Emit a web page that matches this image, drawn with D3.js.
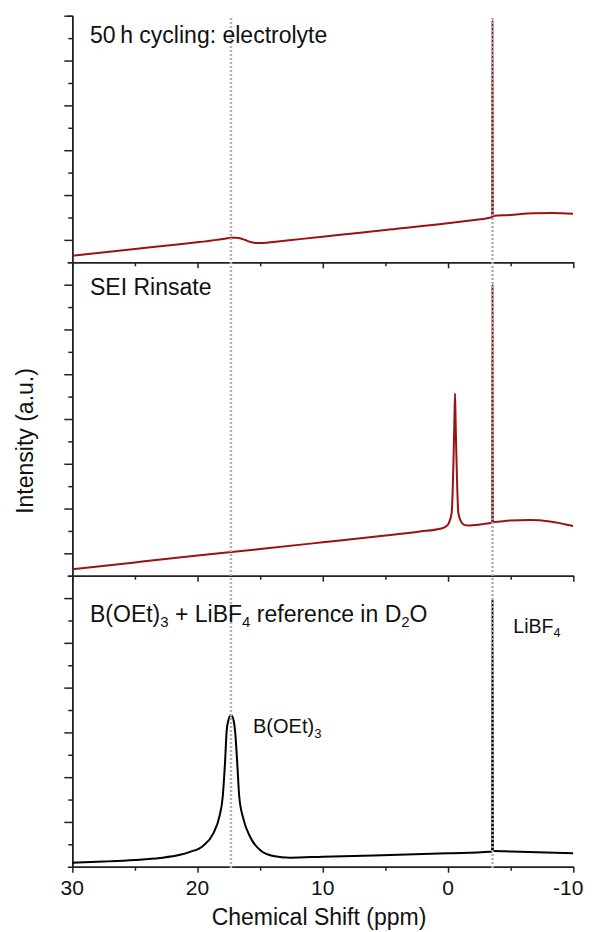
<!DOCTYPE html>
<html>
<head>
<meta charset="utf-8">
<title>11B NMR spectra</title>
<style type="text/css">
  body { margin: 0; background: #fff; }
  svg text { font-family: "Liberation Sans", Arial, Helvetica, sans-serif; fill: #111; }
</style>
</head>
<body>
<script src="https://d3js.org/d3.v7.min.js"></script>
<script type="text/javascript">
// chart values
const ppmTicks = [30, 20, 10, 0, -10];
const ppmTickLabels = ["30", "20", "10", "0", "-10"];
const ppmMinorTicks = [25, 15, 5, -5];
const guidePpm = [17.33, -3.55];

// top: 50 h cycling electrolyte
const electrolytePpm = [30, 25, 22.2, 20.04, 19.54, 18.5, 17.8, 17.33, 16.9, 16.61, 16.21, 15.68, 15.23, 14.48, 13.42, 11.82, 8.6, 5.0, 0.03, -1.75, -3.43, -3.52, -3.55, -3.58, -3.6, -4.95, -6.78, -8.4, -9.98];
const electrolyteInt = [0.147, 0.297, 0.381, 0.446, 0.461, 0.50, 0.526, 0.548, 0.545, 0.535, 0.498, 0.446, 0.430, 0.437, 0.468, 0.517, 0.613, 0.720, 0.870, 0.932, 0.999, 1.005, 5.40, 1.02, 1.033, 1.055, 1.093, 1.10, 1.084];

// middle: SEI rinsate
const rinsatePpm = [30, 25, 20, 15, 10, 5, 2.24, 0.643, 0.244, -0.035, -0.29, -0.37, -0.435, -0.50, -0.555, -0.61, -0.675, -0.74, -0.82, -1.075, -1.355, -1.6, -2.58, -3.43, -3.52, -3.55, -3.58, -3.67, -4.95, -6.55, -8.14, -9.98];
const rinsateInt = [0.143, 0.297, 0.449, 0.596, 0.746, 0.897, 0.987, 1.047, 1.085, 1.16, 1.40, 1.91, 2.58, 3.36, 4.07, 3.36, 2.58, 1.91, 1.40, 1.19, 1.13, 1.12, 1.143, 1.176, 1.18, 6.49, 1.20, 1.199, 1.232, 1.243, 1.21, 1.109];

// bottom: B(OEt)3 + LiBF4 reference in D2O
const referencePpm = [30, 27.5, 25, 23.0, 21.4, 20.6, 19.54, 18.74, 18.26, 17.99, 17.81, 17.67, 17.53, 17.33, 17.13, 17.01, 16.83, 16.67, 16.35, 15.81, 15.01, 13.95, 12.62, 10.0, 0.03, -3.35, -3.52, -3.55, -3.58, -3.7, -5.0, -9.98];
const referenceInt = [0.089, 0.115, 0.150, 0.195, 0.265, 0.33, 0.47, 0.746, 1.116, 1.5625, 2.308, 3.051, 3.275, 3.386, 3.275, 3.051, 2.308, 1.5625, 1.080, 0.670, 0.373, 0.239, 0.201, 0.223, 0.299, 0.335, 0.34, 5.97, 0.35, 0.35, 0.34, 0.299];

// y tick values per panel (no labels)
const electrolyteMajor = [0.5, 1.5, 2.5, 3.5, 4.5, 5.5];
const electrolyteMinor = [1, 2, 3, 4, 5];
const rinsateMajor = [0.5, 1.5, 2.5, 3.5, 4.5, 5.5, 6.5];
const rinsateMinor = [1, 2, 3, 4, 5, 6];
const referenceMajor = [1, 2, 3, 4, 5, 6];
const referenceMinor = [0.5, 1.5, 2.5, 3.5, 4.5, 5.5];

const w = 592;
const h = 932;
const left = 72.3, right = 573.3;
const red = '#9a1212';

const panels = [
  {top: 15.7, bottom: 262.3, domain: [0, 5.5], ppm: electrolytePpm, val: electrolyteInt, color: red, major: electrolyteMajor, minor: electrolyteMinor},
  {top: 262.3, bottom: 575.7, domain: [0, 7], ppm: rinsatePpm, val: rinsateInt, color: red, major: rinsateMajor, minor: rinsateMinor},
  {top: 575.7, bottom: 866.7, domain: [0, 6.5], ppm: referencePpm, val: referenceInt, color: '#000', major: referenceMajor, minor: referenceMinor}
];

const svg = d3.select('body').append('svg')
  .attr('width', w)
  .attr('height', h);

const x = d3.scaleLinear().domain([30, -10]).range([left, right]);

const axisG = svg.append('g');
const lineG = svg.append('g');
const guideG = svg.append('g');
const textG = svg.append('g');

panels.forEach(p => {
  const y = d3.scaleLinear().domain(p.domain).range([p.bottom, p.top]);

  // left axis, major + minor ticks
  axisG.append('g')
    .attr('transform', `translate(${left},0)`)
    .call(d3.axisLeft(y).tickValues(p.major).tickSize(8).tickSizeOuter(4.5).tickFormat(''));
  axisG.append('g')
    .attr('transform', `translate(${left},0)`)
    .call(d3.axisLeft(y).tickValues(p.minor).tickSize(4).tickSizeOuter(0).tickFormat(''));

  // bottom axis
  axisG.append('g')
    .attr('transform', `translate(0,${p.bottom})`)
    .call(d3.axisBottom(x).tickValues(ppmTicks).tickSize(6).tickSizeOuter(0).tickFormat(''));
  axisG.append('g')
    .attr('transform', `translate(0,${p.bottom})`)
    .call(d3.axisBottom(x).tickValues(ppmMinorTicks).tickSize(4).tickSizeOuter(0).tickFormat(''));

  const line = d3.line().curve(d3.curveMonotoneX).x(d => x(d[0])).y(d => y(d[1]));
  lineG.append('path')
    .datum(d3.zip(p.ppm, p.val))
    .attr('d', line)
    .attr('fill', 'none')
    .attr('stroke', p.color)
    .attr('stroke-width', 2)
    .attr('stroke-linejoin', 'round');
});

axisG.selectAll('path, line')
  .attr('stroke', '#222')
  .attr('stroke-width', 1.5);

// dotted guide lines through all three panels
guideG.selectAll('line')
  .data(guidePpm).enter()
  .append('line')
  .attr('x1', d => x(d)).attr('x2', d => x(d))
  .attr('y1', 18).attr('y2', 868)
  .attr('stroke', '#b0b0b0')
  .attr('stroke-width', 2.5)
  .attr('stroke-dasharray', '2,2');

// x tick labels
textG.selectAll('text.tick')
  .data(ppmTicks).enter()
  .append('text')
  .attr('class', 'tick')
  .attr('x', d => x(d))
  .attr('dx', (d, i) => i === ppmTicks.length - 1 ? -5 : 0)
  .attr('y', 895)
  .attr('text-anchor', 'middle')
  .attr('font-size', 21)
  .text((d, i) => ppmTickLabels[i]);

textG.append('text')
  .attr('x', 319).attr('y', 925)
  .attr('text-anchor', 'middle')
  .attr('font-size', 23)
  .text('Chemical Shift (ppm)');

textG.append('text')
  .attr('transform', 'translate(33,441) rotate(-90)')
  .attr('text-anchor', 'middle')
  .attr('font-size', 23)
  .text('Intensity (a.u.)');

// text with subscripts: parts = [[string, isSub], ...]
function richText(parts, tx, ty, size) {
  const t = textG.append('text').attr('x', tx).attr('y', ty).attr('font-size', size);
  let down = false;
  parts.forEach(([s, sub]) => {
    const ts = t.append('tspan').text(s);
    if (sub) {
      ts.attr('font-size', size * 0.65);
      if (!down) { ts.attr('dy', size * 0.22); down = true; }
    } else if (down) {
      ts.attr('dy', -size * 0.22); down = false;
    }
  });
}

richText([['50\u2009h cycling: electrolyte', false]], 90, 43.3, 23);
richText([['SEI Rinsate', false]], 90, 295, 23);
richText([['B(OEt)', false], ['3', true], [' + LiBF', false], ['4', true], [' reference in D', false], ['2', true], ['O', false]], 90, 621.7, 23);
richText([['B(OEt)', false], ['3', true]], 253, 733.3, 20);
richText([['LiBF', false], ['4', true]], 513.3, 632.5, 19.5);
</script>
</body>
</html>
